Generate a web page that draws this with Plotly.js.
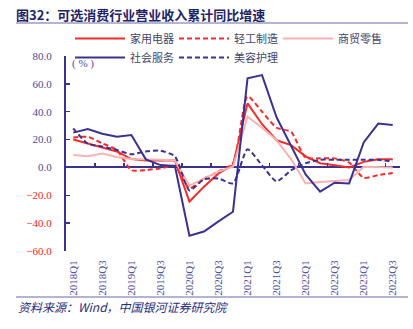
<!DOCTYPE html>
<html>
<head>
<meta charset="utf-8">
<script src="https://cdn.plot.ly/plotly-3.0.1.min.js"></script>
<style>html,body{margin:0;padding:0;background:#fff;}#chart{width:413px;height:329px;}</style>
</head>
<body>
<div id="chart"></div>
<script>
const quarters = ['2018Q1','2018Q2','2018Q3','2018Q4','2019Q1','2019Q2','2019Q3','2019Q4',
  '2020Q1','2020Q2','2020Q3','2020Q4','2021Q1','2021Q2','2021Q3','2021Q4',
  '2022Q1','2022Q2','2022Q3','2022Q4','2023Q1','2023Q2','2023Q3'];
const homeAppliance = [20,17,14.5,11.5,6,5,5,5,-24.5,-13.8,-4.3,1.7,46,31,19.5,16,8,3,1.5,0,4,5.8,5.8];
const lightIndustry = [21.5,22,17.3,12.5,-2,-1.9,-0.7,1,-15,-8,-3,3,51,40,28.5,25.5,7,6.5,6.5,3.5,-7.5,-5.5,-4];
const retail = [9,8,10,7.5,6,6,5.5,5,-13,-8,-3,0.5,36.5,28.5,19.5,6,-11.5,-10.5,-9.5,-9,0.5,0.5,0];
const socialService = [25,27.5,24.2,22,23.3,5.8,1.7,1,-49,-46,-38.7,-31.8,64,66.3,36,15,-5,-17.4,-11,-11.5,18,31.5,30.4];
const beautyCare = [28,17,15,12.5,9.5,11.5,12,8,-16.5,-8.5,-8,-11.5,13,1.5,-10,-2,3,5.5,5.5,5.5,5.5,5.5,4];
const seriesNames = ['家用电器','轻工制造','商贸零售','社会服务','美容护理'];
const yTickVals = [-60,-40,-20,0,20,40,60,80];
const yTickText = ['<span style="color:#FF2020">−60.0</span>','<span style="color:#FF2020">−40.0</span>',
  '<span style="color:#FF2020">−20.0</span>','0.0','20.0','40.0','60.0','80.0'];

const idx = quarters.map((q,i)=>i);
const RED='#F42B2B', PINK='#F9B2B2', NAVY='#3A3290';
const mk = (name, y, color, dash, shape) => ({
  type:'scatter', mode:'lines', name, x: idx, y,
  line:{color, width:2, dash, shape: shape||'linear', smoothing:0.6},
  hoverinfo:'skip'
});
const traces = [
  mk(seriesNames[0], homeAppliance, RED, 'solid'),
  mk(seriesNames[1], lightIndustry, RED, '5px,3px','spline'),
  mk(seriesNames[2], retail, PINK, 'solid'),
  mk(seriesNames[3], socialService, NAVY, 'solid'),
  mk(seriesNames[4], beautyCare, NAVY, '5px,3px','spline'),
  {type:'scatter', x:[], y:[], xaxis:'x2', showlegend:false, hoverinfo:'skip'}
];
const evenIdx = idx.filter(i=>i%2===0);
const layout = {
  width:413, height:329,
  margin:{l:66, r:13, t:56, b:78},
  paper_bgcolor:'#fff', plot_bgcolor:'rgba(0,0,0,0)',
  font:{family:'Liberation Serif, serif', size:11, color:'#4A4A9A'},
  title:{text:'<b>图32：可选消费行业营业收入累计同比增速</b>', xref:'container', yref:'container',
    x:16/413, xanchor:'left', y:1-15/329, yanchor:'middle',
    font:{family:'Noto Sans CJK SC', size:13, color:'#1E2468'}},
  showlegend:true,
  legend:{orientation:'h', x:(70-66)/334, xanchor:'left', y:1+(56-24)/195, yanchor:'top',
    entrywidth:39, entrywidthmode:'pixels', itemwidth:50, tracegroupgap:0,
    font:{family:'Noto Sans CJK SC', size:11, color:'#45456A'}, bgcolor:'rgba(0,0,0,0)'},
  xaxis:{range:[-0.5,22.5], tickvals:evenIdx, ticktext:evenIdx.map(i=>quarters[i]),
    tickangle:-90, ticks:'', showline:false, showgrid:false, zeroline:false,
    ticklabelstandoff:6, tickfont:{family:'Liberation Serif', size:11, color:'#4A4A9A'}},
  xaxis2:{overlaying:'x', anchor:'free', position:60/140, range:[-0.5,22.5],
    tickvals:evenIdx.slice(0,-1).map(i=>i+1.5), ticks:'inside', ticklen:4, tickwidth:1.5, tickcolor:NAVY,
    showticklabels:false, showline:false, showgrid:false, zeroline:false},
  yaxis:{range:[-60,80], tickvals:yTickVals, ticktext:yTickText, ticks:'inside', ticklen:4, tickwidth:1.5,
    tickcolor:NAVY, showline:true, linecolor:NAVY, linewidth:2, showgrid:false,
    zeroline:true, zerolinecolor:NAVY, zerolinewidth:2, ticklabelstandoff:10,
    tickfont:{family:'Liberation Serif', size:11, color:'#4A4A9A'}},
  annotations:[
    {text:'( % )', xref:'paper', yref:'paper', x:(70-66)/334, y:1-(64-56)/195, xanchor:'left', yanchor:'middle',
      showarrow:false, font:{family:'Liberation Serif', size:11, color:'#4A4A9A'}},
    {text:'<i>资料来源：Wind，中国银河证券研究院</i>', xref:'paper', yref:'paper', x:(16-66)/334, y:(251-306)/195,
      xanchor:'left', yanchor:'middle', showarrow:false,
      font:{family:'Noto Sans CJK SC', size:12, color:'#2A2C80'}}
  ],
  shapes:[
    {type:'line', xref:'paper', yref:'paper', x0:(16-66)/334, x1:(408-66)/334, y0:1+(56-23)/195, y1:1+(56-23)/195,
      line:{color:'#6A68A8', width:1}},
    {type:'line', xref:'paper', yref:'paper', x0:(16-66)/334, x1:(408-66)/334, y0:(251-297)/195, y1:(251-297)/195,
      line:{color:'#6A68A8', width:1}}
  ]
};
Plotly.newPlot('chart', traces, layout, {displayModeBar:false, staticPlot:true});
</script>
</body>
</html>
